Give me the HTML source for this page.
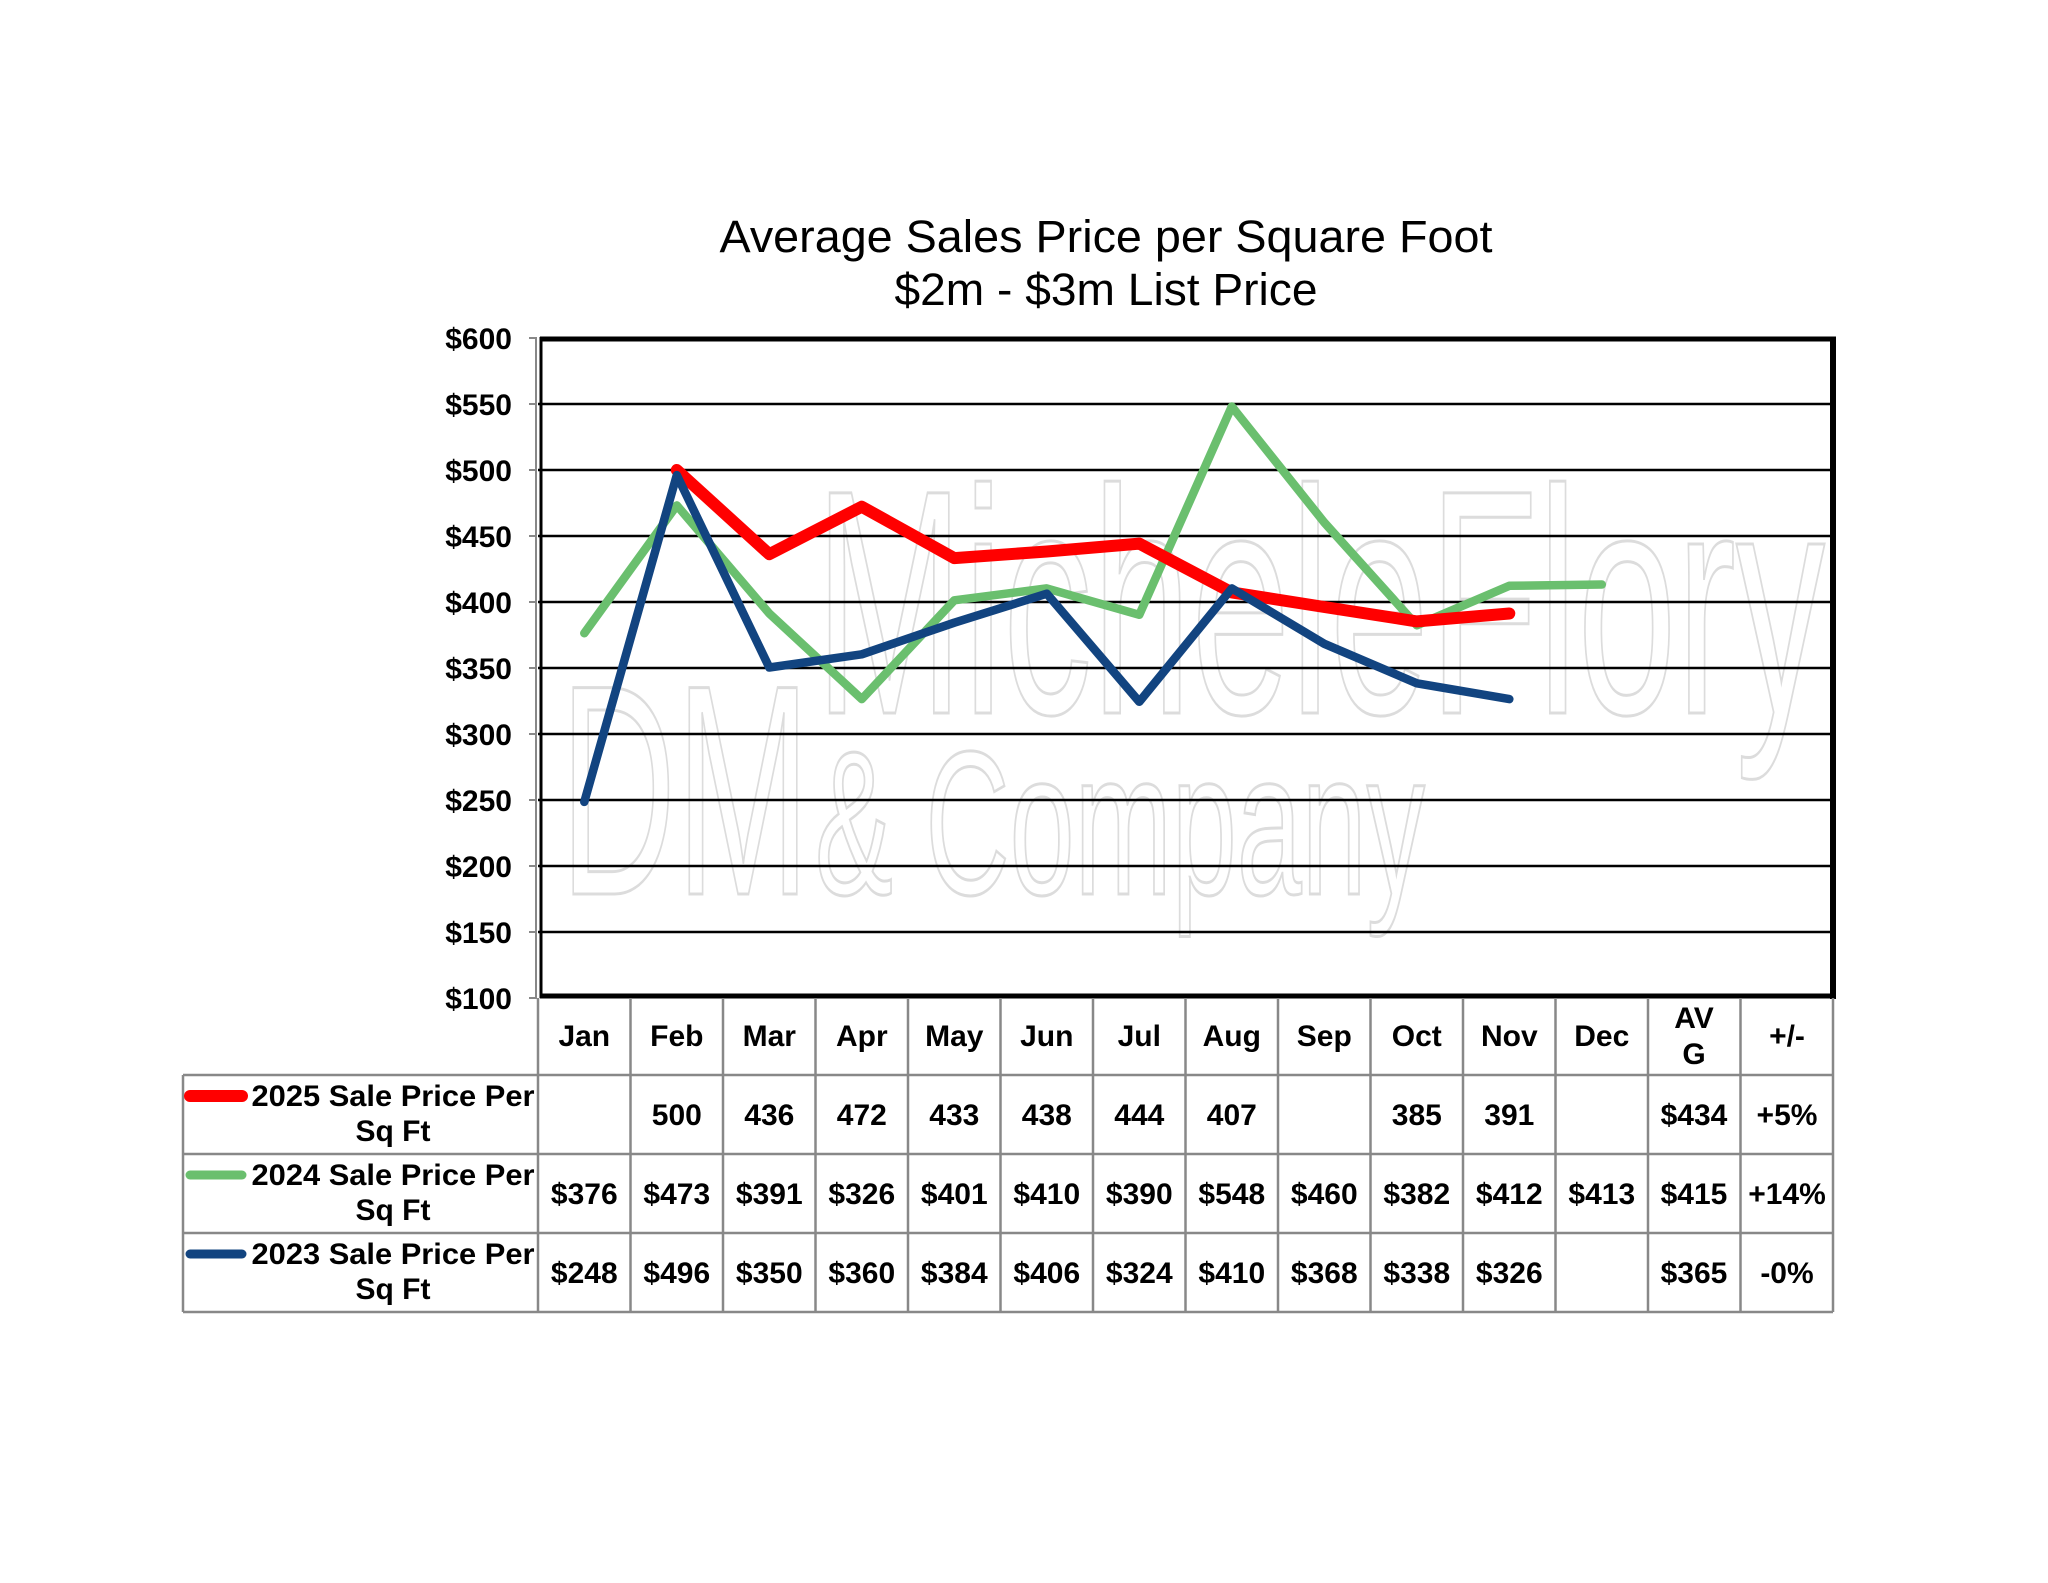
<!DOCTYPE html>
<html><head><meta charset="utf-8"><style>
html,body{margin:0;padding:0;background:#fff;}
svg{display:block;}
text{font-family:"Liberation Sans",Arial,sans-serif;}
</style></head><body>
<svg width="2048" height="1583" viewBox="0 0 2048 1583" xmlns="http://www.w3.org/2000/svg">
<rect width="2048" height="1583" fill="#fff"/>
<!-- title -->
<text x="1106" y="252" font-size="45" text-anchor="middle" fill="#000" textLength="773" lengthAdjust="spacingAndGlyphs">Average Sales Price per Square Foot</text>
<text x="1106" y="305" font-size="45" text-anchor="middle" fill="#000" textLength="423" lengthAdjust="spacingAndGlyphs">$2m - $3m List Price</text>

<!-- watermark -->
<g fill="none" stroke="#dcdcdc" stroke-width="3">
<text x="815" y="713" font-size="320" textLength="1010" lengthAdjust="spacingAndGlyphs">MicheleFlory</text>
<text x="815" y="894" font-size="205" textLength="610" lengthAdjust="spacingAndGlyphs">&amp; Company</text>
<text x="560" y="894" font-size="300" textLength="250" lengthAdjust="spacingAndGlyphs">DM</text>
</g>

<!-- gridlines -->
<g stroke="#000" stroke-width="2.5">
<line x1="538" x2="1833" y1="404" y2="404"/>
<line x1="538" x2="1833" y1="470" y2="470"/>
<line x1="538" x2="1833" y1="536" y2="536"/>
<line x1="538" x2="1833" y1="602" y2="602"/>
<line x1="538" x2="1833" y1="668" y2="668"/>
<line x1="538" x2="1833" y1="734" y2="734"/>
<line x1="538" x2="1833" y1="800" y2="800"/>
<line x1="538" x2="1833" y1="866" y2="866"/>
<line x1="538" x2="1833" y1="932" y2="932"/>
</g>
<!-- frame -->
<line x1="540" x2="1836" y1="339" y2="339" stroke="#000" stroke-width="5"/>
<line x1="1833" x2="1833" y1="337" y2="999" stroke="#000" stroke-width="6"/>
<line x1="540" x2="1836" y1="996" y2="996" stroke="#000" stroke-width="5"/>
<line x1="541" x2="541" y1="337" y2="998" stroke="#000" stroke-width="3"/>
<line x1="536" x2="536" y1="337" y2="998" stroke="#888" stroke-width="2"/>
<g stroke="#888" stroke-width="2">
<line x1="529" x2="537" y1="338" y2="338"/><line x1="529" x2="537" y1="404" y2="404"/>
<line x1="529" x2="537" y1="470" y2="470"/><line x1="529" x2="537" y1="536" y2="536"/>
<line x1="529" x2="537" y1="602" y2="602"/><line x1="529" x2="537" y1="668" y2="668"/>
<line x1="529" x2="537" y1="734" y2="734"/><line x1="529" x2="537" y1="800" y2="800"/>
<line x1="529" x2="537" y1="866" y2="866"/><line x1="529" x2="537" y1="932" y2="932"/>
<line x1="529" x2="537" y1="998" y2="998"/>
</g>
<!-- y labels -->
<g font-size="30" font-weight="bold" text-anchor="end" fill="#000">
<text x="512" y="349">$600</text><text x="512" y="415">$550</text>
<text x="512" y="481">$500</text><text x="512" y="547">$450</text>
<text x="512" y="613">$400</text><text x="512" y="679">$350</text>
<text x="512" y="745">$300</text><text x="512" y="811">$250</text>
<text x="512" y="877">$200</text><text x="512" y="943">$150</text>
<text x="512" y="1009">$100</text>
</g>

<!-- series -->
<g fill="none" stroke-linejoin="round" stroke-linecap="round">
<polyline stroke="#6abf6e" stroke-width="8.5" points="584.3,633.2 676.8,505.4 769.3,613.5 861.8,699.1 954.3,600.3 1046.8,588.4 1139.3,614.8 1231.8,406.5 1324.3,522.5 1416.8,625.3 1509.3,585.8 1601.8,584.5"/>
<polyline stroke="#ff0000" stroke-width="12" points="676.8,470 769.3,554.2 861.8,506.7 954.3,558.1 1046.8,551.5 1139.3,543.6 1231.8,592.4 1324.3,607 1416.8,621.4 1509.3,613.5"/>
<polyline stroke="#124480" stroke-width="8.5" points="584.3,801.9 676.8,475.1 769.3,667.5 861.8,654.3 954.3,622.7 1046.8,593.7 1139.3,701.8 1231.8,588.4 1324.3,643.8 1416.8,683.3 1509.3,699.1"/>
</g>

<!-- table grid -->
<g stroke="#888" stroke-width="2.5" fill="none">
<line x1="183" x2="1833" y1="1075" y2="1075"/>
<line x1="183" x2="1833" y1="1154" y2="1154"/>
<line x1="183" x2="1833" y1="1233" y2="1233"/>
<line x1="183" x2="1833" y1="1312" y2="1312"/>
<line x1="183" x2="183" y1="1075" y2="1312"/>
<line x1="538" x2="538" y1="998" y2="1312"/>
<line x1="630.5" x2="630.5" y1="998" y2="1312"/>
<line x1="723" x2="723" y1="998" y2="1312"/>
<line x1="815.5" x2="815.5" y1="998" y2="1312"/>
<line x1="908" x2="908" y1="998" y2="1312"/>
<line x1="1000.5" x2="1000.5" y1="998" y2="1312"/>
<line x1="1093" x2="1093" y1="998" y2="1312"/>
<line x1="1185.5" x2="1185.5" y1="998" y2="1312"/>
<line x1="1278" x2="1278" y1="998" y2="1312"/>
<line x1="1370.5" x2="1370.5" y1="998" y2="1312"/>
<line x1="1463" x2="1463" y1="998" y2="1312"/>
<line x1="1555.5" x2="1555.5" y1="998" y2="1312"/>
<line x1="1648" x2="1648" y1="998" y2="1312"/>
<line x1="1740.5" x2="1740.5" y1="998" y2="1312"/>
<line x1="1833" x2="1833" y1="998" y2="1312"/>
</g>

<g font-size="30" font-weight="bold" text-anchor="middle" fill="#000">
<!-- header -->
<text x="584.3" y="1046">Jan</text><text x="676.8" y="1046">Feb</text><text x="769.3" y="1046">Mar</text>
<text x="861.8" y="1046">Apr</text><text x="954.3" y="1046">May</text><text x="1046.8" y="1046">Jun</text>
<text x="1139.3" y="1046">Jul</text><text x="1231.8" y="1046">Aug</text><text x="1324.3" y="1046">Sep</text>
<text x="1416.8" y="1046">Oct</text><text x="1509.3" y="1046">Nov</text><text x="1601.8" y="1046">Dec</text>
<text x="1694" y="1028">AV</text><text x="1694" y="1064">G</text>
<text x="1787" y="1046">+/-</text>
<!-- 2025 -->
<text x="676.8" y="1125">500</text><text x="769.3" y="1125">436</text><text x="861.8" y="1125">472</text>
<text x="954.3" y="1125">433</text><text x="1046.8" y="1125">438</text><text x="1139.3" y="1125">444</text>
<text x="1231.8" y="1125">407</text><text x="1416.8" y="1125">385</text><text x="1509.3" y="1125">391</text>
<text x="1694" y="1125">$434</text><text x="1787" y="1125">+5%</text>
<!-- 2024 -->
<text x="584.3" y="1204">$376</text><text x="676.8" y="1204">$473</text><text x="769.3" y="1204">$391</text>
<text x="861.8" y="1204">$326</text><text x="954.3" y="1204">$401</text><text x="1046.8" y="1204">$410</text>
<text x="1139.3" y="1204">$390</text><text x="1231.8" y="1204">$548</text><text x="1324.3" y="1204">$460</text>
<text x="1416.8" y="1204">$382</text><text x="1509.3" y="1204">$412</text><text x="1601.8" y="1204">$413</text>
<text x="1694" y="1204">$415</text><text x="1787" y="1204">+14%</text>
<!-- 2023 -->
<text x="584.3" y="1283">$248</text><text x="676.8" y="1283">$496</text><text x="769.3" y="1283">$350</text>
<text x="861.8" y="1283">$360</text><text x="954.3" y="1283">$384</text><text x="1046.8" y="1283">$406</text>
<text x="1139.3" y="1283">$324</text><text x="1231.8" y="1283">$410</text><text x="1324.3" y="1283">$368</text>
<text x="1416.8" y="1283">$338</text><text x="1509.3" y="1283">$326</text>
<text x="1694" y="1283">$365</text><text x="1787" y="1283">-0%</text>
</g>

<!-- legend -->
<g stroke-linecap="round">
<line x1="190" x2="242" y1="1096" y2="1096" stroke="#ff0000" stroke-width="12"/>
<line x1="190" x2="242" y1="1175" y2="1175" stroke="#6abf6e" stroke-width="9"/>
<line x1="190" x2="242" y1="1254" y2="1254" stroke="#124480" stroke-width="9"/>
</g>
<g font-size="30" font-weight="bold" text-anchor="middle" fill="#000">
<text x="393" y="1106" textLength="283" lengthAdjust="spacingAndGlyphs">2025 Sale Price Per</text><text x="393" y="1141">Sq Ft</text>
<text x="393" y="1185" textLength="283" lengthAdjust="spacingAndGlyphs">2024 Sale Price Per</text><text x="393" y="1220">Sq Ft</text>
<text x="393" y="1264" textLength="283" lengthAdjust="spacingAndGlyphs">2023 Sale Price Per</text><text x="393" y="1299">Sq Ft</text>
</g>
</svg>
</body></html>
